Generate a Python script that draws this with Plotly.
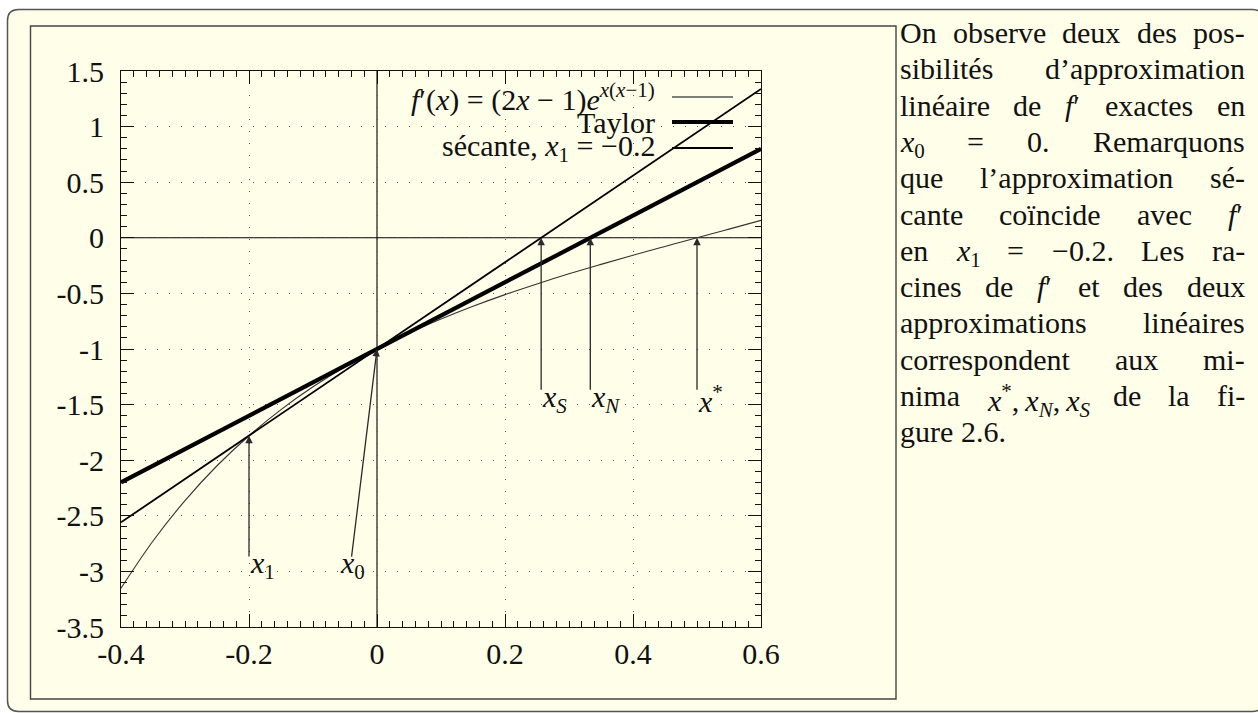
import plotly.graph_objects as go

# ---------------------------------------------------------------- data
# f'(x) = (2x - 1) e^{x(x-1)} sampled on [-0.4, 0.6]
x_curve = [-0.40, -0.35, -0.30, -0.25, -0.20, -0.15, -0.10, -0.05, 0.00, 0.05,
           0.10, 0.15, 0.20, 0.25, 0.30, 0.35, 0.40, 0.45, 0.50, 0.55, 0.60]
y_curve = [-3.151, -2.727, -2.363, -2.050, -1.780, -1.545, -1.340, -1.159, -1.000, -0.858,
           -0.731, -0.616, -0.511, -0.415, -0.324, -0.239, -0.157, -0.078, 0.000, 0.078, 0.157]

# linear approximations of f' around x0 = 0
x_taylor = [-0.4, 0.6]
y_taylor = [-2.2, 0.8]
x_secant = [-0.4, 0.6]
y_secant = [-2.559, 1.339]

# marked points
x0, y0 = 0.0, -1.0
x1, y1 = -0.2, -1.780
root_S, root_N, root_star = 0.2565, 0.3333, 0.5

x_ticks = [-0.4, -0.2, 0, 0.2, 0.4, 0.6]
x_tick_text = ["-0.4", "-0.2", "0", "0.2", "0.4", "0.6"]
y_ticks = [-3.5, -3, -2.5, -2, -1.5, -1, -0.5, 0, 0.5, 1, 1.5]
y_tick_text = ["-3.5", "-3", "-2.5", "-2", "-1.5", "-1", "-0.5", "0", "0.5", "1", "1.5"]

legend_labels = [
    "<i>f</i>′(<i>x</i>) = (2<i>x</i> − 1)<i>e</i><sup><i>x</i>(<i>x</i>−1)</sup>",
    "Taylor",
    "sécante, <i>x</i><sub>1</sub> = −0.2",
]

paragraph = [
    ["On", "observe", "deux", "des", "pos-"],
    ["sibilités", "d’approximation"],
    ["linéaire", "de", "<i>f</i>′", "exactes", "en"],
    ["<i>x</i><sub>0</sub>", "=", "0.", "Remarquons"],
    ["que", "l’approximation", "sé-"],
    ["cante", "coïncide", "avec", "<i>f</i>′"],
    ["en", "<i>x</i><sub>1</sub>", "=", "−0.2.", "Les", "ra-"],
    ["cines", "de", "<i>f</i>′", "et", "des", "deux"],
    ["approximations", "linéaires"],
    ["correspondent", "aux", "mi-"],
    ["nima", "<i>x</i><sup>*</sup>,\u2009<i>x</i><sub><i>N</i></sub>,\u2009<i>x</i><sub><i>S</i></sub>",
     "de", "la", "fi-"],
    ["gure", "2.6."],
]

# ---------------------------------------------------------------- layout helpers
W, H = 1258, 713
PL, PR, PT, PB = 121, 761, 71, 627          # plot area (page pixels)
FONT = "'Liberation Serif', 'Times New Roman', Times, serif"
FS = 30
INK = "#111111"
PAPER_YELLOW = "#fffee8"


def fx(p):
    return (p - PL) / (PR - PL)


def fy(p):
    return (PB - p) / (PB - PT)


def rounded_rect(x0_, y0_, x1_, y1_, r):
    pts = [("M", x0_ + r, y0_), ("L", x1_ - r, y0_), ("Q", x1_, y0_, x1_, y0_ + r),
           ("L", x1_, y1_ - r), ("Q", x1_, y1_, x1_ - r, y1_), ("L", x0_ + r, y1_),
           ("Q", x0_, y1_, x0_, y1_ - r), ("L", x0_, y0_ + r), ("Q", x0_, y0_, x0_ + r, y0_)]
    out = []
    for p in pts:
        cmd, vals = p[0], p[1:]
        coords = []
        for k in range(0, len(vals), 2):
            coords.append(f"{fx(vals[k]):.5f},{fy(vals[k + 1]):.5f}")
        out.append(cmd + " ".join(coords))
    return " ".join(out) + " Z"


# advance widths (1/1000 em) of a Times-like serif, used to justify the paragraph
ADV = {" ": 250, "\u2009": 167, "O": 722, "L": 611, "R": 667, "T": 611, "N": 722, "S": 556,
       "a": 444, "b": 500, "c": 444, "d": 500, "e": 444, "f": 333, "g": 500, "h": 500,
       "i": 278, "j": 278, "k": 500, "l": 278, "m": 778, "n": 500, "o": 500, "p": 500,
       "q": 500, "r": 333, "s": 389, "t": 278, "u": 500, "v": 500, "w": 722, "x": 500,
       "y": 500, "z": 444, "é": 444, "ï": 278, "’": 333, "-": 333, ".": 250, ",": 250,
       "=": 564, "−": 564, "*": 500, "′": 280}
ADV_IT = {"x": 444, "f": 278, "N": 667, "S": 500}


def word_width(html, size):
    w, scale, ital, i = 0.0, 1.0, False, 0
    while i < len(html):
        if html[i] == "<":
            j = html.index(">", i)
            tag = html[i + 1:j]
            if tag in ("sub", "sup"):
                scale = 0.7
            elif tag in ("/sub", "/sup"):
                scale = 1.0
            elif tag == "i":
                ital = True
            elif tag == "/i":
                ital = False
            i = j + 1
            continue
        ch = html[i]
        adv = ADV_IT.get(ch) if (ital and ch in ADV_IT) else ADV.get(ch, 500)
        w += adv * scale
        i += 1
    return w * size / 1000.0


# ---------------------------------------------------------------- figure
fig = go.Figure()

fig.add_trace(go.Scatter(x=x_curve, y=y_curve, mode="lines",
                         line=dict(color="#333333", width=1.1, shape="spline"),
                         hoverinfo="skip"))
fig.add_trace(go.Scatter(x=x_taylor, y=y_taylor, mode="lines",
                         line=dict(color="#000000", width=4.2), hoverinfo="skip"))
fig.add_trace(go.Scatter(x=x_secant, y=y_secant, mode="lines",
                         line=dict(color="#000000", width=1.8), hoverinfo="skip"))

shapes = []
# outer rounded frame and inner figure panel
shapes.append(dict(type="path", xref="paper", yref="paper", layer="below",
                   path=rounded_rect(7.5, 9.5, 1263, 711.5, 11),
                   fillcolor=PAPER_YELLOW, line=dict(color="#555555", width=1.5)))
shapes.append(dict(type="rect", xref="paper", yref="paper", layer="below",
                   x0=fx(30.5), x1=fx(896), y0=fy(26), y1=fy(699),
                   line=dict(color="#444444", width=1.4)))
# opaque key background (hides grid, not curves)
shapes.append(dict(type="rect", xref="paper", yref="paper", layer="between",
                   x0=fx(352), x1=fx(741), y0=fy(164), y1=fy(79),
                   fillcolor=PAPER_YELLOW, line=dict(width=0)))
# zero axes
shapes.append(dict(type="line", xref="x", yref="paper", layer="between",
                   x0=0, x1=0, y0=0, y1=1, line=dict(color="#000000", width=1.1)))
shapes.append(dict(type="line", xref="paper", yref="y", layer="between",
                   x0=0, x1=1, y0=0, y1=0, line=dict(color="#000000", width=1.1)))

# key samples
key_rows = [97, 122, 148]
key_styles = [("#555555", 1.3), ("#000000", 4.2), ("#000000", 1.8)]
for row, (col, wd) in zip(key_rows, key_styles):
    shapes.append(dict(type="line", xref="paper", yref="paper", layer="above",
                       x0=fx(672), x1=fx(733), y0=fy(row), y1=fy(row),
                       line=dict(color=col, width=wd)))

annotations = []
for row, lab in zip(key_rows, legend_labels):
    annotations.append(dict(xref="paper", yref="paper", x=fx(656), y=fy(row),
                            xanchor="right", yanchor="middle", text=lab, showarrow=False,
                            borderpad=0, font=dict(family=FONT, size=FS, color=INK)))

# arrows to the marked points
ARROW = "#2a2a2a"
arrows = [
    (root_S, 0.0, root_S, -1.38),
    (root_N, 0.0, root_N, -1.38),
    (root_star, 0.0, root_star, -1.38),
    (x1, y1, x1, -2.88),
    (x0, y0, -0.04, -2.88),
]
for hx, hy, tx, ty in arrows:
    annotations.append(dict(x=hx, y=hy, ax=tx, ay=ty, xref="x", yref="y",
                            axref="x", ayref="y", text="", showarrow=True,
                            arrowhead=2, arrowsize=1.15, arrowwidth=1.3,
                            arrowcolor=ARROW, standoff=0, startstandoff=0))

point_labels = [
    (root_S, -1.5, "<i>x</i><sub><i>S</i></sub>"),
    (root_N, -1.5, "<i>x</i><sub><i>N</i></sub>"),
    (root_star, -1.5, "<i>x</i><sup>*</sup>"),
    (x1, -3.0, "<i>x</i><sub>1</sub>"),
    (-0.06, -3.0, "<i>x</i><sub>0</sub>"),
]
for lx, ly, txt in point_labels:
    annotations.append(dict(x=lx, y=ly, xref="x", yref="y", text=txt, showarrow=False,
                            xanchor="left", yanchor="middle", yshift=6, borderpad=0,
                            font=dict(family=FONT, size=FS, color=INK)))

# justified paragraph on the right
TX_L, TX_R = 899, 1244
TOP0, LEAD = 15, 36.3
for k, words in enumerate(paragraph):
    widths = [word_width(wd, FS) for wd in words]
    last = k == len(paragraph) - 1
    if len(words) > 1 and not last:
        gap = (TX_R - TX_L - sum(widths)) / (len(words) - 1)
    else:
        gap = ADV[" "] * FS / 1000.0
    xpos = TX_L
    top = TOP0 + LEAD * k
    for wd, ww in zip(words, widths):
        annotations.append(dict(xref="paper", yref="paper", x=fx(xpos), y=fy(top),
                                xanchor="left", yanchor="top", text=wd, showarrow=False,
                                borderpad=0, font=dict(family=FONT, size=FS, color=INK)))
        xpos += ww + gap

axis_common = dict(
    showline=True, linecolor="#111111", linewidth=1.1, mirror="allticks",
    ticks="inside", ticklen=13, tickwidth=1, tickcolor="#111111",
    showgrid=True, gridcolor="#555555", gridwidth=1, griddash="1px,11px",
    zeroline=False, tickfont=dict(family=FONT, size=FS, color=INK),
    fixedrange=True,
)

fig.update_xaxes(range=[-0.4, 0.6], tickvals=x_ticks, ticktext=x_tick_text,
                 ticklabelstandoff=0,
                 minor=dict(ticks="inside", ticklen=6, tickwidth=1, tickcolor="#111111",
                            tick0=0, dtick=0.02, showgrid=False),
                 **axis_common)
fig.update_yaxes(range=[-3.5, 1.5], tickvals=y_ticks, ticktext=y_tick_text,
                 ticklabelstandoff=10,
                 minor=dict(ticks="inside", ticklen=6, tickwidth=1, tickcolor="#111111",
                            tick0=0, dtick=0.1, showgrid=False),
                 **axis_common)

fig.update_layout(
    width=W, height=H, autosize=False,
    margin=dict(l=PL, r=W - PR, t=PT, b=H - PB, pad=0),
    paper_bgcolor="white", plot_bgcolor="rgba(0,0,0,0)",
    showlegend=False, shapes=shapes, annotations=annotations,
    font=dict(family=FONT, size=FS, color=INK),
)

fig.write_html("out.html")
